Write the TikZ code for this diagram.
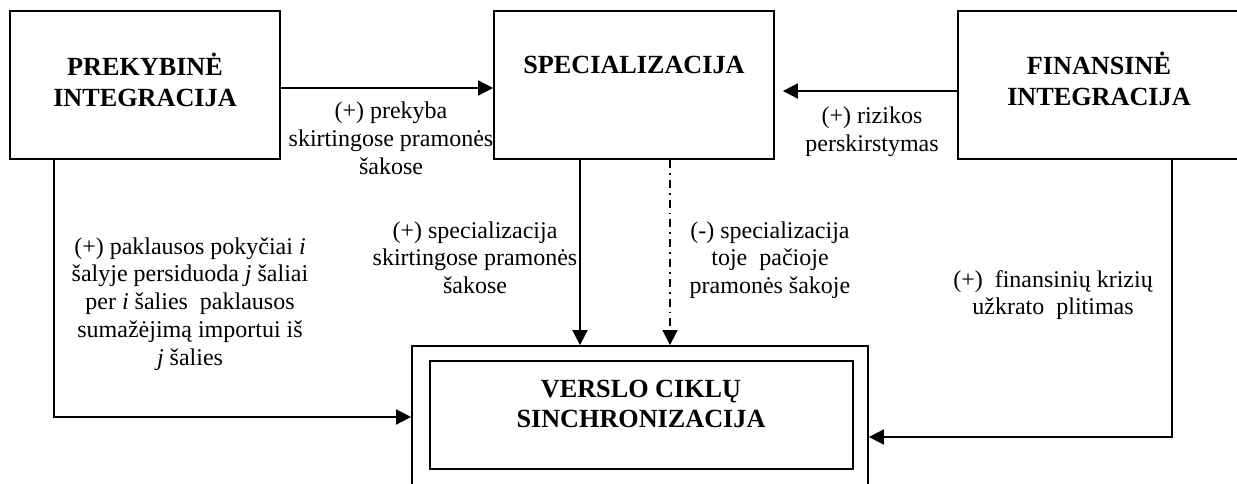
\documentclass[tikz,border=0pt]{standalone}
\usepackage{fontspec}
\setmainfont{Liberation Serif}
\usetikzlibrary{arrows.meta}

% centred stack of lines; its baseline is the baseline of the first line
\newcommand\txtstack[1]{\vtop{\halign{\hfil##\hfil\cr#1\crcr}}}

\tikzset{
  box/.style={draw, rectangle, line width=1.8pt, inner sep=0pt},
  ttl/.style={font=\fontsize{26.2}{30.5}\selectfont\bfseries, inner sep=0pt, anchor=base},
  lbl/.style={font=\fontsize{24}{27.8}\selectfont, inner sep=0pt, anchor=base},
  arr/.style={line width=1.8pt, -{Triangle[length=15pt,width=15pt]}},
  dasharr/.style={arr, line width=1.6pt, dash pattern=on 8pt off 5pt on 1.8pt off 5pt},
}

\begin{document}
\begin{tikzpicture}[x=1pt, y=-1pt]
  \useasboundingbox (0,0) rectangle (1237,484);
  \clip (0,0) rectangle (1237,484);

  % boxes
  \node[box, minimum width=270pt, minimum height=148pt] (prek) at (145,85) {};
  \node[box, minimum width=280pt, minimum height=148pt] (spec) at (634,85) {};
  \node[box, minimum width=282pt, minimum height=148pt] (fin) at (1099,85) {};
  \node[box, minimum width=456pt, minimum height=160pt] (outer) at (640,426) {};
  \node[box, minimum width=423pt, minimum height=108pt] (inner) at (641.5,415) {};

  % box titles
  \node[ttl] (prek-t) at (145,76) {\txtstack{PREKYBINĖ\cr INTEGRACIJA}};
  \node[ttl] (spec-t) at (634,74) {\txtstack{SPECIALIZACIJA}};
  \node[ttl] (fin-t) at (1099,75) {\txtstack{FINANSINĖ\cr INTEGRACIJA}};
  \node[ttl] (sync-t) at (641,397) {\txtstack{VERSLO CIKLŲ\cr SINCHRONIZACIJA}};

  % connectors
  \draw[arr] ([yshift=-3pt]prek.east) -- ([yshift=-3pt]spec.west);
  \draw[arr] ([yshift=-6pt]fin.west) -- ([yshift=-6pt,xshift=8pt]spec.east);
  \draw[arr] ([xshift=-54pt]spec.south) -- ([xshift=-54pt]spec.south |- outer.north);
  \draw[dasharr] ([xshift=36pt]spec.south) -- ([xshift=36pt]spec.south |- outer.north);
  \draw[arr] ([xshift=-91pt]prek.south) |- ([yshift=9pt]outer.west);
  \draw[arr] ([xshift=73pt]fin.south) |- ([yshift=-11pt]outer.east);

  % connector labels
  \node[lbl] (l-trade) at (391,119) {\txtstack{(+) prekyba\cr skirtingose pramonės\cr šakose}};
  \node[lbl] (l-risk) at (872,124) {\txtstack{(+) rizikos\cr perskirstymas}};
  \node[lbl] (l-demand) at (190,254) {\txtstack{(+) paklausos pokyčiai \textit{i}\cr šalyje persiduoda \textit{j} šaliai\cr per \textit{i} šalies\ \ paklausos\cr sumažėjimą importui iš\cr \textit{j} šalies}};
  \node[lbl] (l-inter) at (475,238) {\txtstack{(+) specializacija\cr skirtingose pramonės\cr šakose}};
  \node[lbl] (l-intra) at (770,238) {\txtstack{(-) specializacija\cr toje\ \ pačioje\cr pramonės šakoje}};
  \node[lbl] (l-crisis) at (1053,287) {\txtstack{(+)\ \ finansinių krizių\cr užkrato\ \ plitimas}};
\end{tikzpicture}
\end{document}
